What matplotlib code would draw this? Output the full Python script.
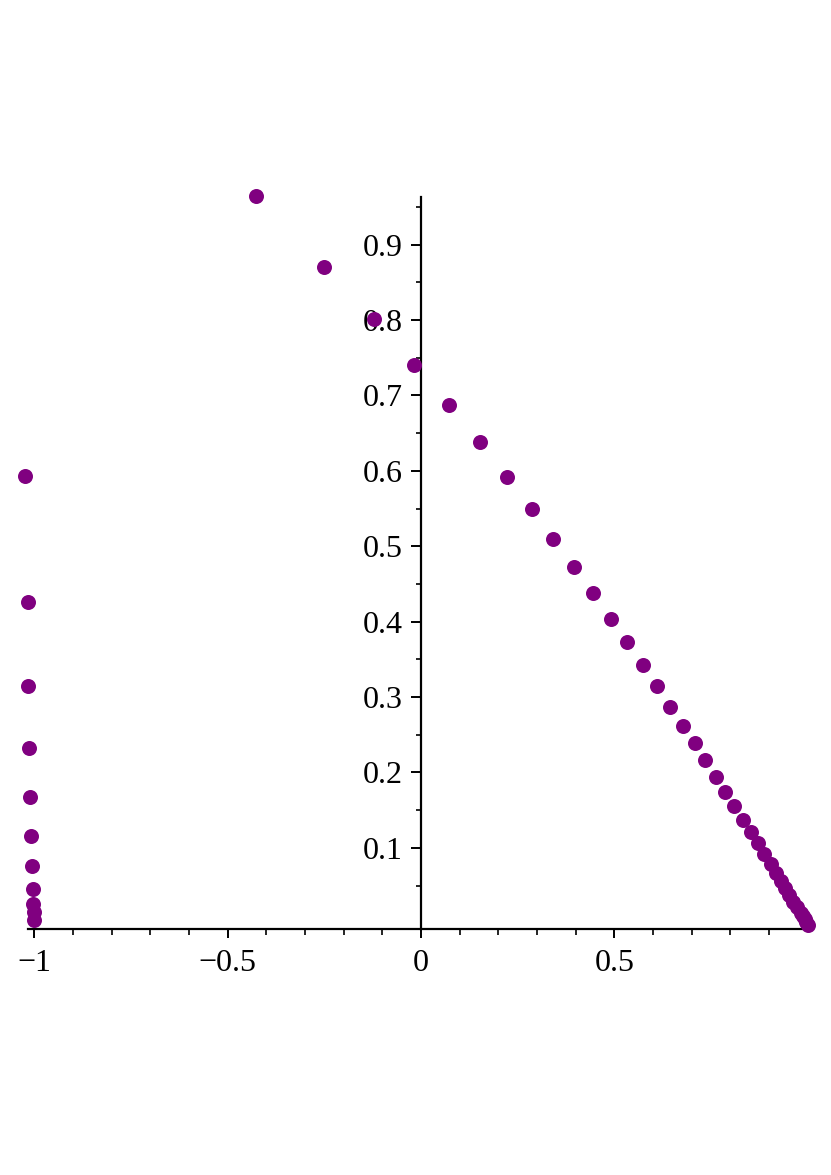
import matplotlib
matplotlib.use("Agg")
import matplotlib.pyplot as plt
from matplotlib.ticker import MultipleLocator, FixedLocator

# Left branch (near x = -1)
left_x = [-1.0235, -1.018, -1.016, -1.013, -1.0106, -1.008, -1.006, -1.004, -1.0025, -1.0015, -1.001]
left_y = [0.593, 0.4265, 0.315, 0.232, 0.1675, 0.116, 0.0764, 0.046, 0.0257, 0.0143, 0.0037]

# Upper / right branch
right_x = [-0.4276, -0.250, -0.1207, -0.0173, 0.0733, 0.1517, 0.2216, 0.2863, 0.3423, 0.3958,
           0.4458, 0.4906, 0.533, 0.5734, 0.6104, 0.644, 0.677, 0.708, 0.7355, 0.7622,
           0.7872, 0.8105, 0.832, 0.8528, 0.871, 0.888, 0.9045, 0.918, 0.930, 0.9415,
           0.9527, 0.963, 0.9734, 0.983, 0.9885, 0.9933, 0.997, 1.000]
right_y = [0.965, 0.870, 0.802, 0.741, 0.687, 0.638, 0.592, 0.550, 0.510, 0.4726,
           0.4377, 0.404, 0.3727, 0.3426, 0.3147, 0.2873, 0.262, 0.2387, 0.216, 0.194,
           0.174, 0.1556, 0.1374, 0.121, 0.106, 0.092, 0.0786, 0.067, 0.0565, 0.0464,
           0.0375, 0.0286, 0.0212, 0.0133, 0.009, 0.0053, 0.002, -0.002]

x_major = [-1, -0.5, 0, 0.5]
x_labels = ["\u22121", "\u22120.5", "0", "0.5"]
y_major = [0.1, 0.2, 0.3, 0.4, 0.5, 0.6, 0.7, 0.8, 0.9]
y_labels = ["0.1", "0.2", "0.3", "0.4", "0.5", "0.6", "0.7", "0.8", "0.9"]
y_minor = [0.05, 0.15, 0.25, 0.35, 0.45, 0.55, 0.65, 0.75, 0.85, 0.95]

plt.rcParams['font.family'] = ['Liberation Serif', 'DejaVu Serif']

fig = plt.figure(figsize=(8.31, 11.75), dpi=100)
ax = fig.add_axes([0.0331, 0.2094, 0.9687 - 0.0331, 0.8326 - 0.2094])

purple = "#800080"
ax.plot(left_x, left_y, 'o', color=purple, ms=10.8, mew=0, clip_on=False, zorder=3)
ax.plot(right_x, right_y, 'o', color=purple, ms=10.8, mew=0, clip_on=False, zorder=3)

ax.set_xlim(-1.018, 0.9933)
ax.set_ylim(-0.0076, 0.9637)

for s in ['top', 'right']:
    ax.spines[s].set_visible(False)
ax.spines['left'].set_position(('data', 0))
ax.spines['left'].set_linewidth(1.6)
ax.spines['bottom'].set_linewidth(1.6)

ax.xaxis.set_major_locator(FixedLocator(x_major))
ax.set_xticklabels(x_labels)
ax.xaxis.set_minor_locator(MultipleLocator(0.1))
ax.yaxis.set_major_locator(FixedLocator(y_major))
ax.set_yticklabels(y_labels)
ax.yaxis.set_minor_locator(FixedLocator(y_minor))

ax.tick_params(axis='x', which='major', direction='out', length=6.5, width=1.4, pad=8, labelsize=23)
ax.tick_params(axis='x', which='minor', direction='out', length=4, width=1.2)
ax.tick_params(axis='y', which='major', direction='out', length=7, width=1.4, pad=6.5, labelsize=23)
ax.tick_params(axis='y', which='minor', direction='out', length=3.8, width=1.2)

fig.savefig("out.png", dpi=100)
